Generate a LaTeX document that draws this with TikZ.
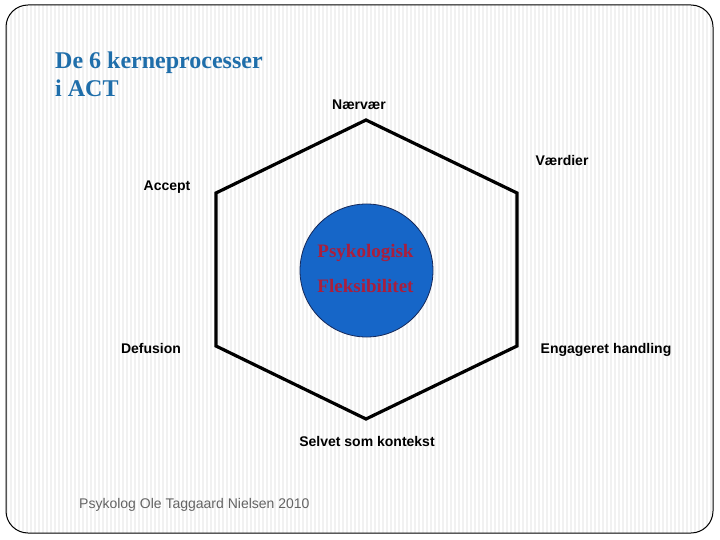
\documentclass[tikz,border=0pt]{standalone}
\usepackage{fontspec}
\setmainfont{Liberation Sans}
\newfontfamily\titlefont{Liberation Serif}
\definecolor{titleblue}{RGB}{31,110,170}
\definecolor{circblue}{RGB}{22,102,200}
\definecolor{circedge}{RGB}{20,40,90}
\definecolor{flexred}{RGB}{170,30,60}
\definecolor{stripe}{RGB}{241,241,241}
\definecolor{footgray}{RGB}{100,100,100}
\tikzset{
  lbl/.style={font=\fontsize{14}{16}\selectfont\bfseries, inner sep=0pt, anchor=base},
  ttl/.style={font=\titlefont\fontsize{24}{28}\selectfont\bfseries, text=titleblue, inner sep=0pt, anchor=base west},
  flex/.style={font=\titlefont\fontsize{19}{22}\selectfont\bfseries, text=flexred, inner sep=0pt, anchor=base},
  hexline/.style={line width=3.2pt, line join=miter},
}
\begin{document}
\begin{tikzpicture}[x=1pt,y=-1pt]
\useasboundingbox (0,0) rectangle (720,540);
\fill[white] (0,0) rectangle (720,540);
% striped background
\begin{scope}
\clip[rounded corners=22pt] (6,5) rectangle (713,533);
\foreach \x in {6,10,...,714} {
  \fill[stripe] (\x,5) rectangle ++(2,528);
}
\end{scope}
\draw[line width=1pt, rounded corners=22pt] (6,5) rectangle (713,533);
% title
\node[ttl] (t1) at (55,69) {De 6 kerneprocesser};
\node[ttl] (t2) at (55,97) {i ACT};
% hexagon
\coordinate (top) at (366,120);
\coordinate (ur) at (517,193);
\coordinate (lr) at (517,346);
\coordinate (bot) at (366,419);
\coordinate (ll) at (216,346);
\coordinate (ul) at (216,193);
\draw[hexline] (top) -- (ur) -- (lr) -- (bot) -- (ll) -- (ul) -- cycle;
% circle
\node[circle, draw=circedge, line width=0.8pt, fill=circblue, minimum size=133pt, inner sep=0pt] (core) at (366.5,270.5) {};
\node[flex] (psy) at (365.5,257) {Psykologisk};
\node[flex] (fle) at (365.5,292) {Fleksibilitet};
% labels
\node[lbl] (naer) at (359,110) {Nærvær};
\node[lbl] (vaer) at (562,166) {Værdier};
\node[lbl] (acc) at (167,191) {Accept};
\node[lbl] (def) at (151,353) {Defusion};
\node[lbl] (eng) at (606,353) {Engageret handling};
\node[lbl] (sel) at (367,446) {Selvet som kontekst};
% footer
\node[font=\fontsize{14}{16}\selectfont, text=footgray, inner sep=0pt, anchor=base west] (foot) at (79,508) {Psykolog Ole Taggaard Nielsen 2010};
\end{tikzpicture}
\end{document}
